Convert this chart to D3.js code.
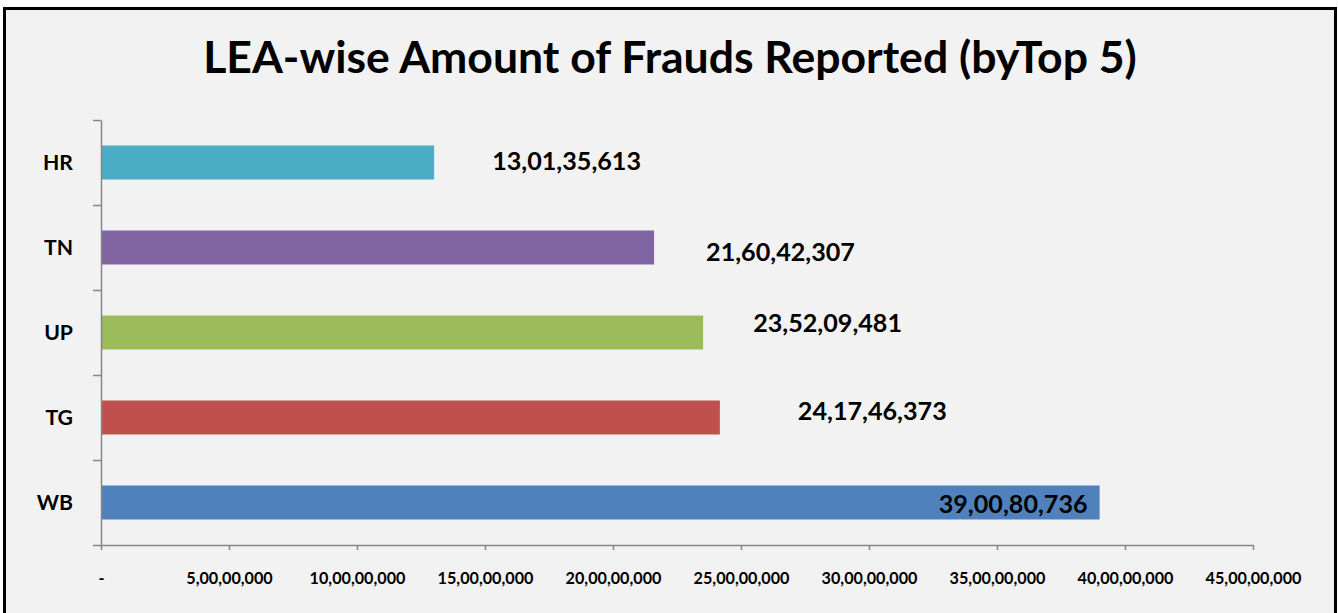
<!DOCTYPE html>
<html>
<head>
<meta charset="utf-8">
<script src="https://cdn.jsdelivr.net/npm/d3@7"></script>
<style>
  html, body { margin: 0; padding: 0; background: #ffffff; }
  svg { display: block; }
  text { font-family: Lato, "Open Sans", "Noto Sans", sans-serif; font-weight: bold; fill: #000; }
</style>
</head>
<body>
<svg id="chart" width="1338" height="613"></svg>
<script>
// Data
const categories = ['HR', 'TN', 'UP', 'TG', 'WB'];
const amounts = [130135613, 216042307, 235209481, 241746373, 390080736];
const barColors = ['#4bacc6', '#8064a2', '#9bbb59', '#c0504d', '#4f81bd'];
const xTicks = [0, 50000000, 100000000, 150000000, 200000000, 250000000,
  300000000, 350000000, 400000000, 450000000];
const title = 'LEA-wise Amount of Frauds Reported (byTop 5)';

// Layout (label nudges were hand-placed in the original)
const labelNudge = [
  {dx: 58, dy: -2, anchor: 'start'},
  {dx: 52, dy: 4, anchor: 'start'},
  {dx: 50, dy: -10, anchor: 'start'},
  {dx: 78, dy: -7, anchor: 'start'},
  {dx: -12, dy: 1, anchor: 'end'}
];
const plot = {left: 101, right: 1253, top: 120, bottom: 545};
const axisColor = '#868686';

// Indian digit grouping: 39,00,80,736
const indianFormat = n => {
  if (n === 0) return '-';
  let s = String(Math.round(n));
  if (s.length <= 3) return s;
  let last3 = s.slice(-3);
  let rest = s.slice(0, -3).replace(/\B(?=(\d{2})+(?!\d))/g, ',');
  return `${rest},${last3}`;
};

// Scale font size so the text is as wide as the original
const fitWidth = (sel, base, target) => {
  sel.style('font-size', `${base}px`);
  let w = d3.max(sel.nodes(), n => n.getComputedTextLength());
  sel.style('font-size', `${base * target / w}px`);
};

const svg = d3.select('#chart');

// Chart area + border
svg.append('rect')
  .attr('x', 4.5)
  .attr('y', 8.5)
  .attr('width', 1331)
  .attr('height', 620)
  .style('fill', '#f2f2f2')
  .style('stroke', '#000')
  .style('stroke-width', 3);

let x = d3.scaleLinear()
  .domain([0, 450000000])
  .range([plot.left, plot.right]);

let y = d3.scaleBand()
  .domain(categories)
  .range([plot.top, plot.bottom])
  .paddingInner(0.6)
  .paddingOuter(0.3);

// Category boundaries for the y ticks
let yEdges = d3.scaleLinear()
  .domain([0, categories.length])
  .range([plot.top, plot.bottom]);

// Bars
svg.append('g')
  .selectAll('rect')
  .data(categories)
  .join('rect')
  .attr('x', x(0))
  .attr('y', d => y(d))
  .attr('width', (d, i) => x(amounts[i]) - x(0))
  .attr('height', y.bandwidth())
  .style('fill', (d, i) => barColors[i]);

// X axis
let xAxis = svg.append('g')
  .attr('transform', `translate(0, ${plot.bottom})`)
  .call(d3.axisBottom(x)
    .tickValues(xTicks)
    .tickSize(5)
    .tickSizeOuter(0)
    .tickFormat(indianFormat));

xAxis.selectAll('path, line')
  .style('stroke', axisColor)
  .style('stroke-width', 1.5);

let xLabels = xAxis.selectAll('text')
  .attr('y', 33)
  .attr('dy', '0.35em')
  .style('font-family', 'Lato, "Open Sans", sans-serif');
fitWidth(xLabels, 16, 96);

// Y axis: line plus boundary ticks
let yAxis = svg.append('g')
  .attr('transform', `translate(${plot.left}, 0)`)
  .call(d3.axisLeft(yEdges)
    .ticks(categories.length)
    .tickSize(8)
    .tickSizeOuter(0)
    .tickFormat(''));

yAxis.selectAll('path, line')
  .style('stroke', axisColor)
  .style('stroke-width', 1.5);

// Category labels
let catLabels = svg.append('g')
  .selectAll('text')
  .data(categories)
  .join('text')
  .attr('x', 73)
  .attr('y', d => y(d) + y.bandwidth() / 2)
  .attr('dy', '0.36em')
  .attr('text-anchor', 'end')
  .text(d => d);
fitWidth(catLabels.filter(d => d === 'HR'), 24, 30);
catLabels.style('font-size', catLabels.filter(d => d === 'HR').style('font-size'));

// Value labels
let valueLabels = svg.append('g')
  .selectAll('text')
  .data(categories)
  .join('text')
  .attr('x', (d, i) => x(amounts[i]) + labelNudge[i].dx)
  .attr('y', (d, i) => y(d) + y.bandwidth() / 2 + labelNudge[i].dy)
  .attr('dy', '0.36em')
  .attr('text-anchor', (d, i) => labelNudge[i].anchor)
  .text((d, i) => indianFormat(amounts[i]));
fitWidth(valueLabels, 24, 149);

// Title
let titleText = svg.append('text')
  .attr('x', 670)
  .attr('y', 73)
  .attr('text-anchor', 'middle')
  .text(title);
fitWidth(titleText, 40, 934);
</script>
</body>
</html>
